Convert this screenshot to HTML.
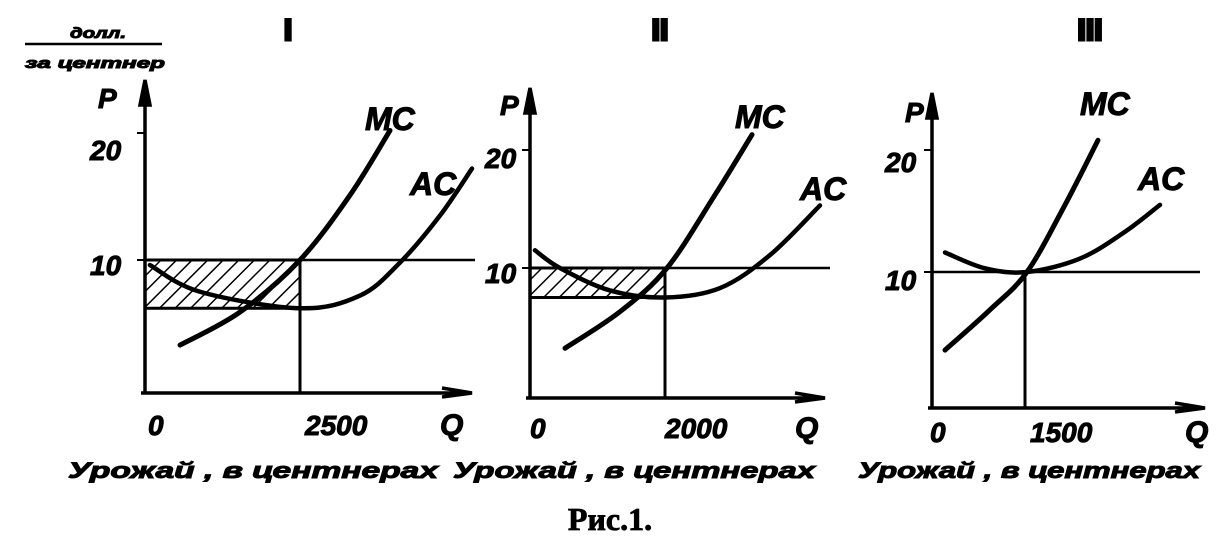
<!DOCTYPE html>
<html><head><meta charset="utf-8"><style>
html,body{margin:0;padding:0;background:#fff;}
svg{display:block;}
.t{font-family:"Liberation Sans",sans-serif;font-weight:bold;font-style:italic;fill:#000;stroke:#000;stroke-width:1;}
</style></head><body>
<svg id="fig" width="1220" height="560" viewBox="0 0 1220 560">
<defs>
<pattern id="hatch" patternUnits="userSpaceOnUse" width="11" height="11" patternTransform="rotate(45)">
<line x1="0" y1="0" x2="0" y2="11" stroke="#000" stroke-width="3"/>
</pattern>
</defs>
<g>
<text class="t" x="70" y="38" font-size="15" textLength="56" lengthAdjust="spacingAndGlyphs">долл.</text>
<line x1="25" y1="44" x2="162" y2="44" stroke="#000" stroke-width="2.5"/>
<text class="t" x="25" y="68" font-size="15" textLength="140" lengthAdjust="spacingAndGlyphs">за центнер</text>
</g>
<text x="610" y="530" text-anchor="middle" font-family="Liberation Serif,serif" font-weight="bold" font-size="32" stroke="#000" stroke-width="0.8">Рис.1.</text>
<g id="panels"></g>
</svg>
<script>
// Panel I data
const p1MCq=[565,1532,2500,3306,3952];
const p1MCp=[3.3,5.9,10,15.1,20.2];
const p1ACq=[80,887,2500,3468,4113,4758,5274];
const p1ACp=[9.6,7.5,6.2,7.2,9.8,13.5,17.2];
const p1Price=10, p1Qstar=2500, p1ACmin=6.2;
// Panel II data
const p2MCq=[519,1333,2030,2741,3289];
const p2MCp=[3.2,6.3,10,16.2,21.3];
const p2ACq=[74,444,1185,2000,2815,3556,4296];
const p2ACp=[11.5,10,8.1,7.5,8.3,11.1,15.3];
const p2Price=10, p2Qstar=2000, p2ACmin=7.5;
// Panel III data
const p3MCq=[210,935,1532,2145,2677];
const p3MCp=[3.6,6.9,10,15.5,20.8];
const p3ACq=[210,855,1532,2387,3113,3677];
const p3ACp=[11.6,10.3,10,11.1,13.3,15.5];
const p3Price=10, p3Qstar=1500, p3ACmin=null;
const yTicks=[10,20];
const qLabels=["2500","2000","1500"];
const romans=["I","II","III"];

const panels=[
 {ox:145,axY:393,y0:387,ppu:12.7,qpx:155/2500,top:80,right:472,hEnd:475,mcq:p1MCq,mcp:p1MCp,acq:p1ACq,acp:p1ACp,price:p1Price,qs:p1Qstar,acmin:p1ACmin,mcL:[365,130],acL:[410,195],pL:[98,108],tick:[[90,160],[90,275]],zero:[148,435],ql:[305,435],Q:[440,435],rom:288,bot:[68,478,370]},
 {ox:530,axY:398,y0:386,ppu:11.8,qpx:135/2000,top:88,right:825,hEnd:830,mcq:p2MCq,mcp:p2MCp,acq:p2ACq,acp:p2ACp,price:p2Price,qs:p2Qstar,acmin:p2ACmin,mcL:[735,128],acL:[800,200],pL:[500,115],tick:[[485,168],[485,283]],zero:[530,438],ql:[665,438],Q:[795,438],rom:660,bot:[453,478,362]},
 {ox:932,axY:408,y0:394,ppu:12.2,qpx:93/1500,top:93,right:1205,hEnd:1200,mcq:p3MCq,mcp:p3MCp,acq:p3ACq,acp:p3ACp,price:p3Price,qs:p3Qstar,acmin:p3ACmin,mcL:[1080,115],acL:[1138,190],pL:[905,122],tick:[[885,172],[885,290]],zero:[930,442],ql:[1030,442],Q:[1185,442],rom:1090,bot:[858,478,342]}
];
const NS="http://www.w3.org/2000/svg";
const root=document.getElementById('panels');
function mk(tag,attrs,parent){const e=document.createElementNS(NS,tag);for(const k in attrs)e.setAttribute(k,attrs[k]);(parent||root).appendChild(e);return e;}
function spline(pts){let d="M"+pts[0][0]+","+pts[0][1];for(let i=0;i<pts.length-1;i++){const p0=pts[i-1]||pts[i],p1=pts[i],p2=pts[i+1],p3=pts[i+2]||p2;
 d+=" C"+(p1[0]+(p2[0]-p0[0])/6)+","+(p1[1]+(p2[1]-p0[1])/6)+" "+(p2[0]-(p3[0]-p1[0])/6)+","+(p2[1]-(p3[1]-p1[1])/6)+" "+p2[0]+","+p2[1];}return d;}
panels.forEach((P,i)=>{
 const X=q=>P.ox+q*P.qpx, Y=p=>P.y0-p*P.ppu;
 const g=mk('g',{});
 
 
 const T=(txt,x,y,fs,name,extra)=>{const t=mk('text',Object.assign({x:x,y:y,'font-size':fs,class:'t'},extra||{}),g);t.textContent=txt;return t;};
 T(romans[i],P.rom,40,30,'panel-title',{'text-anchor':'middle',style:'font-style:normal;stroke-width:3'});
 if(P.acmin!==null){const h=mk('rect',{x:P.ox,y:Y(P.price),width:X(P.qs)-P.ox,height:Y(P.acmin)-Y(P.price),fill:'url(#hatch)',stroke:'#000','stroke-width':3},g);
  }
 const hl=mk('line',{x1:P.ox,y1:Y(P.price),x2:P.hEnd,y2:Y(P.price),stroke:'#000','stroke-width':2.5},g);
 
 const vl=mk('line',{x1:X(P.qs),y1:Y(P.price),x2:X(P.qs),y2:P.axY,stroke:'#000','stroke-width':3},g);
 
 const ya=mk('path',{d:`M${P.ox},${P.axY} L${P.ox},${P.top+20} M${P.ox-5},${P.top+25} L${P.ox},${P.top} L${P.ox+5},${P.top+25} Z`,stroke:'#000','stroke-width':3.5,fill:'#000'},g);
 
 const xa=mk('path',{d:`M${P.ox-4},${P.axY} L${P.right},${P.axY} M${P.right-30},${P.axY-5} L${P.right},${P.axY} L${P.right-30},${P.axY+4}`,stroke:'#000','stroke-width':3.5,fill:'none'},g);
 
 yTicks.forEach(v=>{const tk=mk('line',{x1:P.ox-8,y1:Y(v),x2:P.ox,y2:Y(v),stroke:'#000','stroke-width':2},g);});
 T("20",P.tick[0][0],P.tick[0][1],28,'y-tick-label-20');
 T("10",P.tick[1][0],P.tick[1][1],28,'y-tick-label-10');
 T("0",P.zero[0],P.zero[1],28,'x-tick-label-0');
 T(qLabels[i],P.ql[0],P.ql[1],28,'x-tick-label-q');
 T("Q",P.Q[0],P.Q[1],30,'x-axis-title');
 T("P",P.pL[0],P.pL[1],28,'y-axis-title');
 const mc=mk('path',{d:spline(P.mcq.map((q,k)=>[X(q),Y(P.mcp[k])])),stroke:'#000','stroke-width':5,fill:'none','stroke-linecap':'round'},g);
 
 const ac=mk('path',{d:spline(P.acq.map((q,k)=>[X(q),Y(P.acp[k])])),stroke:'#000','stroke-width':4.5,fill:'none','stroke-linecap':'round'},g);
 
 T("MC",P.mcL[0],P.mcL[1],32,'mc-label');
 T("AC",P.acL[0],P.acL[1],32,'ac-label');
 T("Урожай ,  в центнерах",P.bot[0],P.bot[1],22,'x-axis-caption',{textLength:P.bot[2],lengthAdjust:'spacingAndGlyphs'});
});
</script>
</body></html>
